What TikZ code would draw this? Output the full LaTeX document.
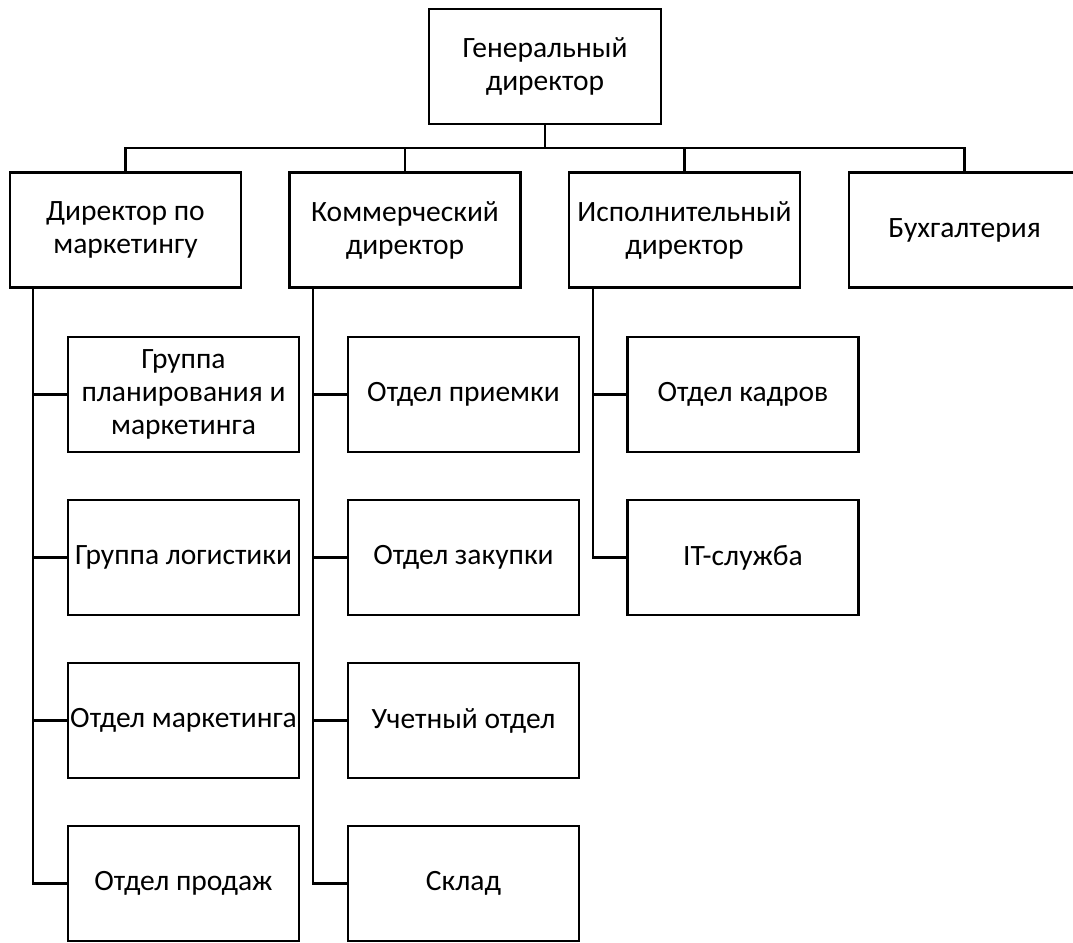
\documentclass[tikz,border=0pt]{standalone}
\usepackage{fontspec}
\setmainfont{Carlito}
\begin{document}
\begin{tikzpicture}[x=1pt,y=-1pt,
  box/.style={draw=black, line width=2.2pt, rectangle, minimum width=231pt, minimum height=115pt,
    inner sep=0pt, align=center, font=\fontsize{29.5}{33}\selectfont},
  conn/.style={draw=black, line width=2.6pt}]
\clip (0,0) rectangle (1073,942);
\fill[white] (0,0) rectangle (1073,942);
% top
\node[box, minimum width=232pt] (top) at (545,66.5) {Генеральный\\директор};
% level 2
\node[box] (mk) at (125.5,230) {Директор по\\маркетингу};
\node[box] (km) at (405,230) {Коммерческий\\директор};
\node[box] (ex) at (684.5,230) {Исполнительный\\директор};
\node[box] (bh) at (964.5,230) {Бухгалтерия};
% level 3, column 1
\node[box] (a1) at (183.5,394.5) {Группа\\планирования и\\маркетинга};
\node[box] (a2) at (183.5,557.5) {Группа логистики};
\node[box] (a3) at (183.5,720.5) {Отдел маркетинга};
\node[box] (a4) at (183.5,883.5) {Отдел продаж};
% column 2
\node[box] (b1) at (463.5,394.5) {Отдел приемки};
\node[box] (b2) at (463.5,557.5) {Отдел закупки};
\node[box] (b3) at (463.5,720.5) {Учетный отдел};
\node[box] (b4) at (463.5,883.5) {Склад};
% column 3
\node[box] (c1) at (743,394.5) {Отдел кадров};
\node[box] (c2) at (743,557.5) {IT-служба};
% bus
\coordinate (bus) at (545,148);
\coordinate (s1) at (33,287);
\coordinate (s2) at (313,287);
\coordinate (s3) at (593,287);
\draw[conn] (top.south) -- (bus);
\draw[conn] (mk.north) -- (mk.north |- bus) -- (bh.north |- bus) -- (bh.north);
\draw[conn] (km.north) -- (km.north |- bus);
\draw[conn] (ex.north) -- (ex.north |- bus);
% spines
\draw[conn] (s1) -- (s1 |- a4.west) -- (a4.west);
\draw[conn] (a1.west) -- (a1.west -| s1);
\draw[conn] (a2.west) -- (a2.west -| s1);
\draw[conn] (a3.west) -- (a3.west -| s1);
\draw[conn] (s2) -- (s2 |- b4.west) -- (b4.west);
\draw[conn] (b1.west) -- (b1.west -| s2);
\draw[conn] (b2.west) -- (b2.west -| s2);
\draw[conn] (b3.west) -- (b3.west -| s2);
\draw[conn] (s3) -- (s3 |- c2.west) -- (c2.west);
\draw[conn] (c1.west) -- (c1.west -| s3);
\end{tikzpicture}
\end{document}
